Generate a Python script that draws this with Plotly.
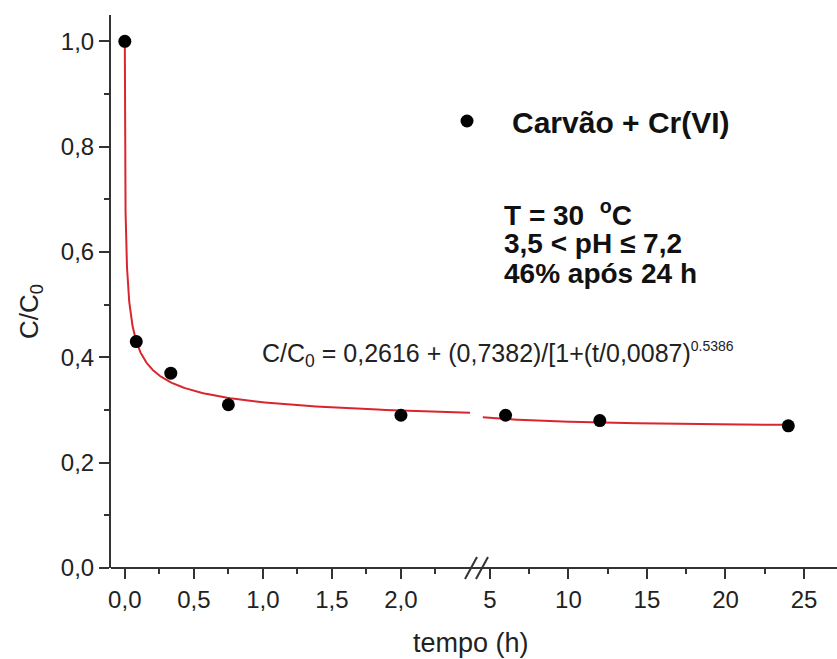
import numpy as np
import plotly.graph_objects as go

# Measured concentration ratio vs time (h)
tempo_h = [0.0, 0.083, 0.333, 0.75, 2.0, 6.0, 12.0, 24.0]
c_c0 = [1.00, 0.43, 0.37, 0.31, 0.29, 0.29, 0.28, 0.27]

# Fitted model parameters: C/C0 = c_inf + a / [1 + (t/t0)^p]
c_inf = 0.2616
amp = 0.7382
t0 = 0.0087
expo = 0.5386

# Broken time axis: left segment and right segment
left_range = [-0.1, 2.5]
right_range = [4.5, 27.1]
left_ticks = [0, 0.5, 1.0, 1.5, 2.0]
left_minor = [0.25, 0.75, 1.25, 1.75, 2.25]
right_ticks = [5, 10, 15, 20, 25]
right_minor = [7.5, 12.5, 17.5, 22.5]
y_ticks = [0.0, 0.2, 0.4, 0.6, 0.8, 1.0]
y_minor = [0.1, 0.3, 0.5, 0.7, 0.9]

conditions = ["T = 30  <sup>o</sup>C", "3,5 &lt; pH ≤ 7,2", "46% após 24 h"]


def model(t):
    t = np.asarray(t, dtype=float)
    return c_inf + amp / (1.0 + (t / t0) ** expo)


W, H = 837, 659
ML, MR, MT, MB = 111, 0, 15, 91
PW, PH = W - ML - MR, H - MT - MB


def px(x):
    return (x - ML) / PW


def py(y):
    return (H - MB - y) / PH


FONT = "Liberation Sans, Arial, sans-serif"
AX = "#333333"
RED = "#d9262e"

t_left = np.concatenate([[0.0], np.geomspace(1e-5, left_range[1], 400)])
t_right = np.linspace(4.55, 24.0, 200)

tl = [t for t in tempo_h if t <= left_range[1]]
cl = [c for t, c in zip(tempo_h, c_c0) if t <= left_range[1]]
tr = [t for t in tempo_h if t > left_range[1]]
cr = [c for t, c in zip(tempo_h, c_c0) if t > left_range[1]]

fig = go.Figure()
fig.add_trace(go.Scatter(x=t_left, y=model(t_left), mode="lines",
                         line=dict(color=RED, width=2), xaxis="x", yaxis="y",
                         showlegend=False, hoverinfo="skip"))
fig.add_trace(go.Scatter(x=t_right, y=model(t_right), mode="lines",
                         line=dict(color=RED, width=2), xaxis="x2", yaxis="y",
                         showlegend=False, hoverinfo="skip"))
fig.add_trace(go.Scatter(x=tl, y=cl, mode="markers", name="Carvão + Cr(VI)",
                         marker=dict(color="black", size=13), xaxis="x", yaxis="y",
                         cliponaxis=False))
fig.add_trace(go.Scatter(x=tr, y=cr, mode="markers", name="Carvão + Cr(VI)",
                         marker=dict(color="black", size=13), xaxis="x2", yaxis="y",
                         showlegend=False, cliponaxis=False))

tick_common = dict(ticks="outside", ticklen=10, tickwidth=2, tickcolor=AX,
                   showgrid=False, zeroline=False,
                   tickfont=dict(family=FONT, size=24, color="#222"))

split_l = px(470)
split_r = px(482)

fig.update_layout(
    width=W, height=H,
    margin=dict(l=ML, r=MR, t=MT, b=MB),
    paper_bgcolor="white", plot_bgcolor="white",
    separators=",.",
    font=dict(family=FONT, color="#222"),
    xaxis=dict(domain=[0, split_l], range=left_range, tickvals=left_ticks,
               tickformat=".1f", anchor="y", showline=False,
               minor=dict(tickvals=left_minor, ticklen=5, tickwidth=2,
                          tickcolor=AX, ticks="outside"),
               **tick_common),
    xaxis2=dict(domain=[split_r, 1], range=right_range, tickvals=right_ticks,
                tickformat="d", anchor="y", showline=False,
                minor=dict(tickvals=right_minor, ticklen=5, tickwidth=2,
                           tickcolor=AX, ticks="outside"),
                **tick_common),
    yaxis=dict(range=[0, 1.05], tickvals=y_ticks, tickformat=".1f",
               showline=True, linewidth=2, linecolor=AX,
               minor=dict(tickvals=y_minor, ticklen=5, tickwidth=2,
                          tickcolor=AX, ticks="outside"),
               **tick_common),
    showlegend=True,
    legend=dict(x=px(422), y=py(121), xanchor="left", yanchor="middle",
                bgcolor="rgba(0,0,0,0)", borderwidth=0, itemwidth=80,
                font=dict(family=FONT, size=30, color="#111",
                          weight="bold")),
)

# Continuous x axis baseline with break marks
fig.add_shape(type="line", xref="paper", yref="paper", x0=0, x1=1, y0=0, y1=0,
              line=dict(color=AX, width=2))
for x0 in (465, 476):
    fig.add_shape(type="line", xref="paper", yref="paper",
                  x0=px(x0), x1=px(x0 + 12), y0=py(579), y1=py(557),
                  line=dict(color=AX, width=2))

fig.add_annotation(text="C/C<sub>0</sub>", xref="paper", yref="paper",
                   x=px(30), y=py(312), textangle=-90, showarrow=False,
                   xanchor="center", yanchor="middle",
                   font=dict(family=FONT, size=26, color="#222"))
fig.add_annotation(text="tempo (h)", xref="paper", yref="paper",
                   x=px(471), y=py(643), showarrow=False,
                   xanchor="center", yanchor="middle",
                   font=dict(family=FONT, size=27, color="#222"))
fig.add_annotation(
    text=("C/C<sub>0</sub> = 0,2616 + (0,7382)/[1+(t/0,0087)"
          "<sup><span style='font-size:14px'>0.5386</span></sup>"),
    xref="paper", yref="paper", x=px(260), y=py(354), showarrow=False,
    xanchor="left", yanchor="middle",
    font=dict(family=FONT, size=25, color="#222"))

for i, line in enumerate(conditions):
    fig.add_annotation(
        text=line, xref="paper", yref="paper", x=px(502), y=py(213 + 30 * i),
        showarrow=False, xanchor="left", yanchor="middle", align="left",
        font=dict(family=FONT, size=28, color="#111", weight="bold"))

fig.write_html("out.html")
